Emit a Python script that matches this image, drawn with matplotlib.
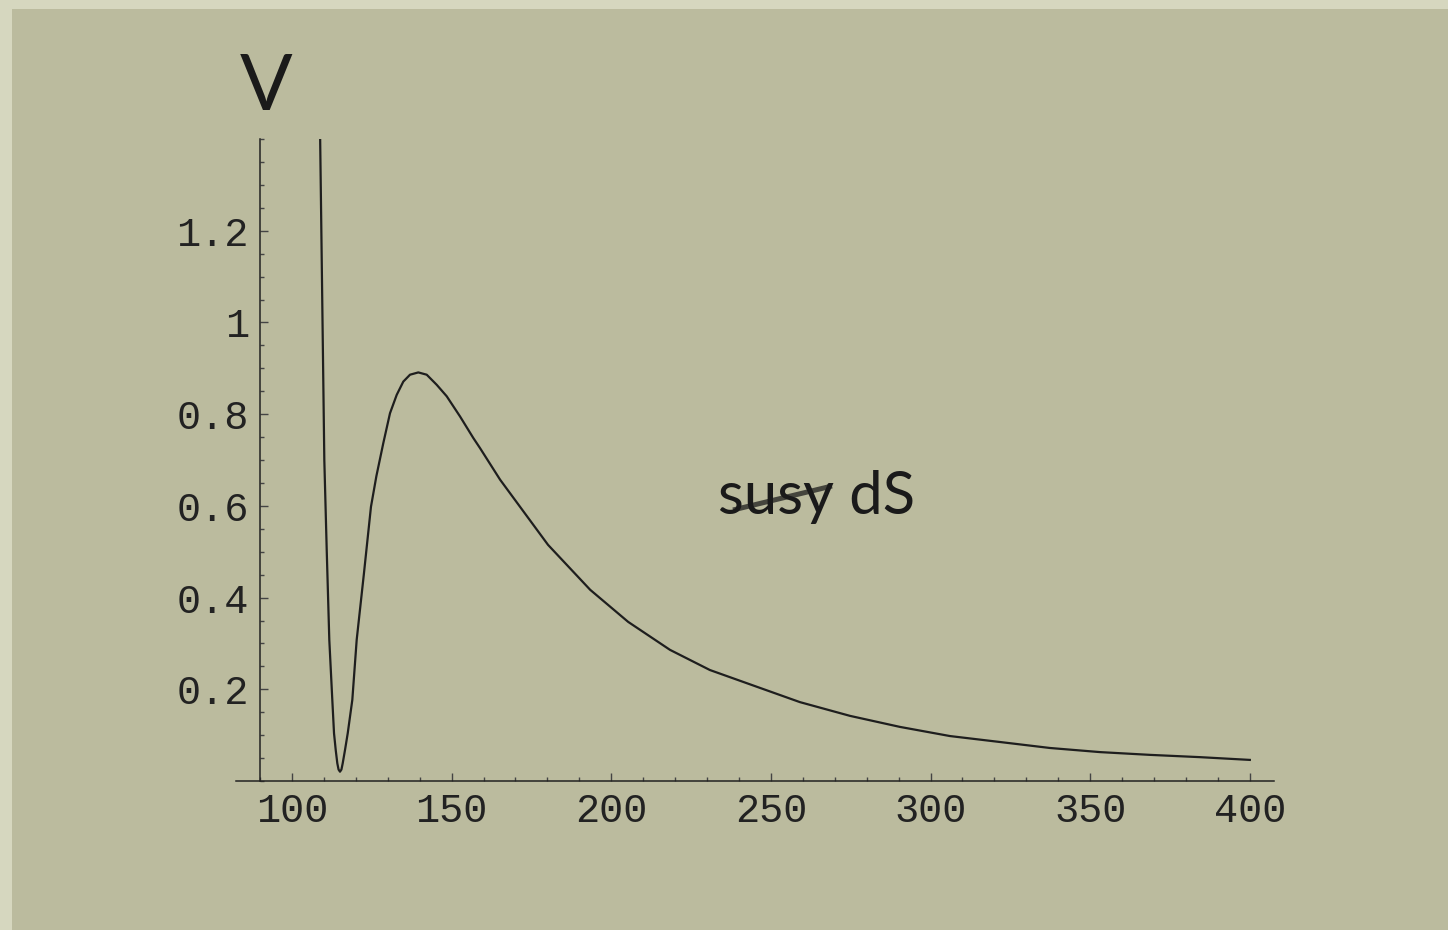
import matplotlib
matplotlib.use("Agg")
import matplotlib.pyplot as plt
from matplotlib.patches import Rectangle
from matplotlib.lines import Line2D
from matplotlib.ticker import MultipleLocator, FixedLocator

# curve
phi = [108.8, 110.14, 110.89, 111.70, 112.64, 113.18, 113.71, 114.21, 114.6, 115.05,
       115.5, 115.90, 116.62, 117.47, 118.91, 120.28, 122.57, 124.75, 126.45, 128.62,
       130.71, 132.81, 134.88, 136.98, 139.58, 142.21, 145.34, 148.47, 152.64, 156.80,
       158.90, 165.2, 180.2, 193.4, 205.3, 218.4, 230.9, 246.6, 259.1, 274.8,
       290.4, 306.1, 321.8, 337.4, 353.1, 368.7, 384.4, 400.0]
V = [1.42, 0.700, 0.504, 0.308, 0.177, 0.104, 0.0676, 0.0386, 0.025, 0.0203,
     0.025, 0.0386, 0.0676, 0.104, 0.177, 0.308, 0.454, 0.598, 0.665, 0.737,
     0.802, 0.842, 0.871, 0.886, 0.891, 0.886, 0.864, 0.839, 0.795, 0.748,
     0.726, 0.657, 0.515, 0.417, 0.347, 0.286, 0.242, 0.203, 0.172, 0.142,
     0.118, 0.098, 0.085, 0.072, 0.063, 0.057, 0.052, 0.046]

xticks = [100, 150, 200, 250, 300, 350, 400]
yticks = [0.2, 0.4, 0.6, 0.8, 1.0, 1.2]
ylabels = ["0.2", "0.4", "0.6", "0.8", "1", "1.2"]

W, H = 1448, 930
fig = plt.figure(figsize=(W / 100, H / 100), dpi=100)
fig.patch.set_facecolor("#d6d7bf")
fig.patches.append(Rectangle((12 / W, 0), 1, 1 - 9 / H, transform=fig.transFigure,
                             facecolor="#bbbb9e", edgecolor="none", zorder=-5))

ax = fig.add_axes([236 / W, 1 - 781 / H, (1274 - 236) / W, (781 - 139) / H])
ax.set_facecolor("none")
ax.plot(phi, V, color="#1e1e1e", lw=1.6)
ax.set_xlim(82.48, 407.57)
ax.set_ylim(0, 1.4)

ax.spines["left"].set_position(("data", 90))
ax.spines["top"].set_visible(False)
ax.spines["right"].set_visible(False)
for s in ("left", "bottom"):
    ax.spines[s].set_color("#222222")
    ax.spines[s].set_linewidth(1.1)

ax.xaxis.set_major_locator(FixedLocator(xticks))
ax.xaxis.set_minor_locator(MultipleLocator(10))
ax.yaxis.set_major_locator(FixedLocator(yticks))
ax.yaxis.set_minor_locator(MultipleLocator(0.05))
ax.set_xticklabels([str(t) for t in xticks])
ax.set_yticklabels(ylabels)
ax.tick_params(which="both", direction="in", color="#444444", width=1)
ax.tick_params(which="major", length=5.5)
ax.tick_params(which="minor", length=3)
ax.tick_params(axis="x", pad=8)
ax.tick_params(axis="y", pad=8)
for lab in ax.get_xticklabels() + ax.get_yticklabels():
    lab.set_fontfamily("Liberation Mono")
    lab.set_fontsize(29)
    lab.set_color("#222222")

fig.text(240 / W, 1 - 110 / H, "V", fontsize=56, family="Lato", color="#1a1a1a",
         ha="left", va="baseline")
fig.text(718 / W, 1 - 514 / H, "susy dS", fontsize=43, family="Lato", color="#1a1a1a",
         ha="left", va="baseline")
fig.lines.append(Line2D([733 / W, 832 / W], [1 - 510 / H, 1 - 486 / H],
                        transform=fig.transFigure, color="#45453d", lw=3.6,
                        solid_capstyle="butt"))

fig.savefig("out.png", dpi=100, facecolor=fig.get_facecolor())
